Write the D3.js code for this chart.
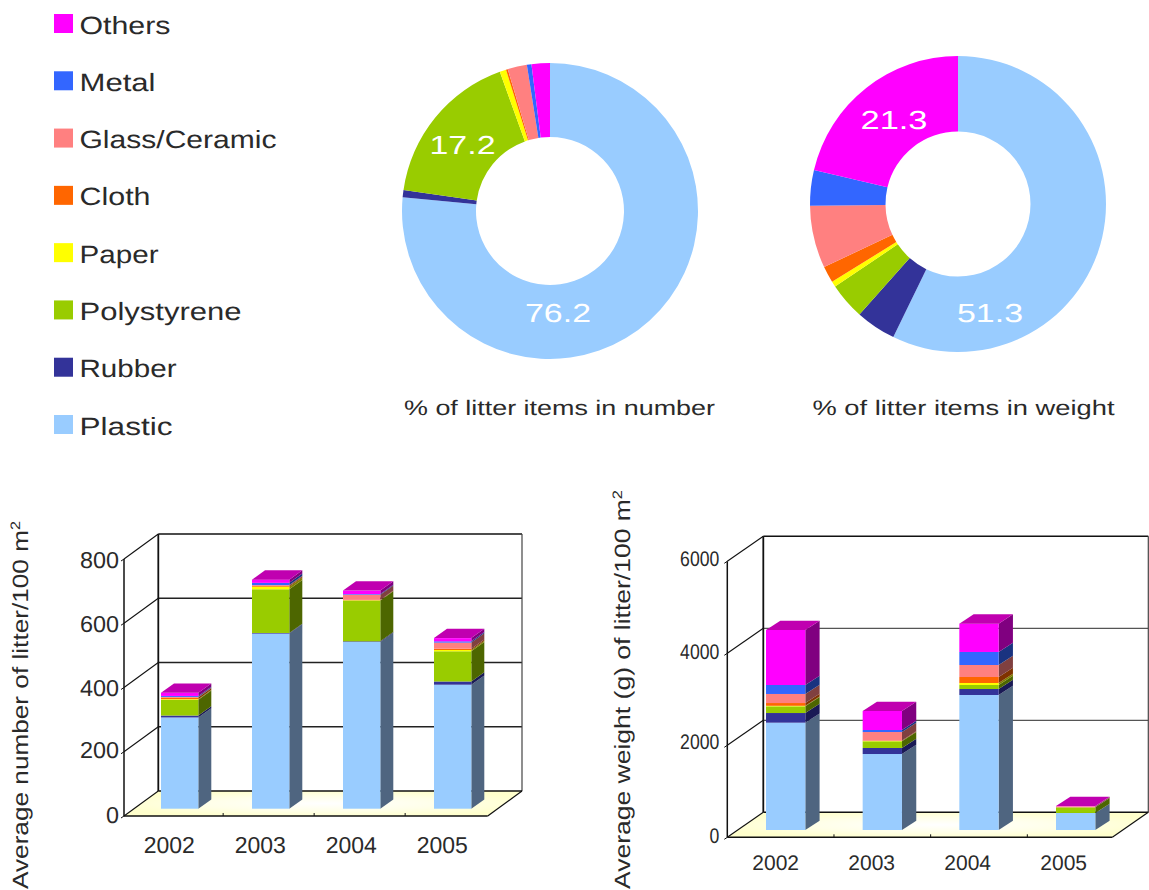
<!DOCTYPE html>
<html><head><meta charset="utf-8">
<script src="https://cdn.jsdelivr.net/npm/d3@7"></script>
<style>html,body{margin:0;padding:0;background:#fff}svg{display:block}text{font-family:"Liberation Sans",Arial,sans-serif;fill:#2a2a2a;text-rendering:geometricPrecision}</style>
</head><body><svg id="c" width="1149" height="890"></svg>
<script>
// ---------- data ----------
const materials = ["Plastic","Rubber","Polystyrene","Paper","Cloth","Glass/Ceramic","Metal","Others"];
const legendOrder = ["Others","Metal","Glass/Ceramic","Cloth","Paper","Polystyrene","Rubber","Plastic"];
const colors = ["#99CCFF","#333399","#99CC00","#FFFF00","#FF6600","#FF8080","#3366FF","#FF00FF"];
const sideColors = ["#4F6580","#1A1A55","#4D6600","#808000","#803300","#804040","#1A3380","#800080"];
const years = ["2002","2003","2004","2005"];

const pieNumber = [76.4,0.8,17.2,0.7,0.2,2.1,0.5,2.0];
const pieWeight = [57.2,4.4,4.0,0.6,1.8,6.8,3.9,21.3];
const pieNumberLabels = ["76.2","17.2"];
const pieWeightLabels = ["51.3","21.3"];

const count2002 = [284,6,49,2,5,2,3,10];
const count2003 = [545,2,136,8,3,2,7,10];
const count2004 = [519,2,127,1,1,16,2,11];
const count2005 = [386,10,94,4,4,19,4,10];

const weight2002 = [2333,210,145,12,60,197,195,1196];
const weight2003 = [1652,131,145,7,10,185,44,413];
const weight2004 = [2935,130,87,44,130,261,283,616];
const weight2005 = [370,0,123,0,0,22,0,6];

const countTicks = [0,200,400,600,800];
const weightTicks = [0,2000,4000,6000];

// ---------- drawing ----------
const svg = d3.select("#c");
const defs = svg.append("defs");
const matColor = d3.scaleOrdinal(materials, colors);

function stretched(g, str, x, y, size, width, fill){
  return g.append("text").attr("x",x).attr("y",y).attr("font-size",size)
    .attr("textLength",width).attr("lengthAdjust","spacingAndGlyphs")
    .style("fill",fill||"#2a2a2a").text(str);
}

// legend
const legendY = d3.scalePoint(legendOrder,[14,415]);
const legendWidths = {"Others":91,"Metal":76,"Glass/Ceramic":197,"Cloth":71,"Paper":79,"Polystyrene":162,"Rubber":97,"Plastic":93};
const lg = svg.append("g");
legendOrder.forEach(name=>{
  const y = legendY(name);
  lg.append("rect").attr("x",54).attr("y",y).attr("width",19).attr("height",19).attr("fill",matColor(name));
  stretched(lg,name,79.5,y+19.6,25,legendWidths[name]);
});

// donuts
function donut(vals,cx,cy,ri,labels,labelPos,caption,capX,capW){
  const g = svg.append("g").attr("transform",`translate(${cx},${cy})`);
  const arcs = d3.pie().sort(null)(vals);
  const arc = d3.arc().innerRadius(ri).outerRadius(148);
  g.selectAll("path").data(arcs).join("path").attr("d",arc).attr("fill",(d,i)=>colors[i]);
  labels.forEach((t,i)=>stretched(svg,t,labelPos[i][0],labelPos[i][1],26,labelPos[i][2],"#fff"));
  stretched(svg,caption,capX,415,21,capW);
}
donut(pieNumber,550,211,74,pieNumberLabels,[[525,322,66],[429.5,154,66]],"% of litter items in number",404,311);
donut(pieWeight,958,204,72.5,pieWeightLabels,[[957,322,66],[860.5,129,67]],"% of litter items in weight",812.5,302);

// 3-D stacked bars
function bar3d(o){
  const g = svg.append("g");
  const D = o.depth, H = o.wallShift;
  const yFront = d3.scaleLinear(o.domain,[o.front,o.front-o.wallH]);
  const yBack  = d3.scaleLinear(o.domain,[o.front-H,o.front-H-o.wallH]);
  const yBar   = d3.scaleLinear(o.domain,[o.barBase,o.barBase-o.wallH]);
  const xBar   = d3.scalePoint(years,o.barRange);
  const xLabel = d3.scalePoint(years,o.labelRange);
  const L=o.left, R=o.right;
  const grad = "g"+o.id;
  const rg = defs.append("radialGradient").attr("id",grad).attr("cx","50%").attr("cy","50%").attr("r","55%");
  rg.append("stop").attr("offset","0").attr("stop-color","#fff");
  rg.append("stop").attr("offset","0.55").attr("stop-color","#FFFFE8");
  rg.append("stop").attr("offset","1").attr("stop-color","#FFFFCC");
  const y0=yFront(0), b0=yBack(0);
  g.append("polygon").attr("points",[[L,y0],[L+D,b0],[R+D,b0],[R,y0]].join(" ")).attr("fill",`url(#${grad})`);
  const line=(a,b,c,d,w,s)=>g.append("line").attr("x1",a).attr("y1",b).attr("x2",c).attr("y2",d)
     .attr("stroke",s||"#111").attr("stroke-width",w||1.3);
  o.ticks.forEach(t=>{
    if(t>0 && t<o.domain[1]) line(L+D,yBack(t),R+D,yBack(t),o.gridW,o.gridC);
    line(L,yFront(t),L+D,yBack(t),1.1);
    line(L-3,yFront(t)+2,L,yFront(t),1);
  });
  const top=yBack(o.domain[1]);
  line(L+D,top,R+D,top,1.4);
  line(L+D,top,L+D,b0,1.8);
  line(R+D,top,R+D,b0,1.2,"#444");
  line(L,yFront(o.domain[1]),L,y0,1.5);
  line(L+D,b0,R+D,b0,1.6);
  line(L,y0,R,y0,1.4);
  line(R,y0,R+D,b0,1.2);
  // x ticks
  years.slice(1).forEach((yr,i)=>{
    const tx=d3.mean([xBar(years[i]),xBar(yr)])+o.barW/2+o.tickShift;
    line(tx,y0,tx,y0-3,1);
  });
  // bars
  const bd=o.barDepth, bh=o.barRise, w=o.barW;
  o.rows.forEach((row,i)=>{
    const x=xBar(years[i]);
    let cum=0;
    row.forEach((v,k)=>{
      if(v<=0) return;
      const a=yBar(cum), b=yBar(cum+v);
      g.append("polygon").attr("points",[[x+w,a],[x+w+bd,a-bh],[x+w+bd,b-bh],[x+w,b]].join(" ")).attr("fill",sideColors[k]);
      g.append("rect").attr("x",x).attr("y",b).attr("width",w).attr("height",a-b).attr("fill",colors[k]);
      cum+=v;
    });
    const t=yBar(cum);
    g.append("polygon").attr("points",[[x,t],[x+w,t],[x+w+bd,t-bh],[x+bd,t-bh]].join(" ")).attr("fill","#C000B0");
    g.append("text").attr("x",xLabel(years[i])).attr("y",o.labelY).attr("text-anchor","middle").attr("font-size",o.fs).text(years[i]);
  });
  o.ticks.forEach((t,i)=>{
    const s=String(t);
    g.append("text").attr("x",L-o.tickGap).attr("y",o.tickY[i]).attr("text-anchor","end").attr("font-size",o.fs)
      .attr("textLength",s.length*o.digitW).attr("lengthAdjust","spacingAndGlyphs").text(s);
  });
  // axis title
  const tt=g.append("text").attr("transform",`translate(${o.titleX},${o.titleB}) rotate(-90)`).attr("font-size",o.titleFs)
    .attr("textLength",o.titleW).attr("lengthAdjust","spacingAndGlyphs");
  tt.append("tspan").text(o.title);
  tt.append("tspan").attr("dy",-8).attr("font-size",o.titleFs*0.62).text("2");
}
bar3d({id:"a",domain:[0,800],ticks:countTicks,rows:[count2002,count2003,count2004,count2005],
  left:124,right:487.7,front:816,wallH:257,wallShift:25,depth:34.3,barBase:808.7,
  barRange:[161,434],barW:37.3,barDepth:13,barRise:9.3,labelRange:[169.3,442.3],labelY:852.7,fs:23,
  tickY:[823,758,696,632,568],tickGap:5,digitW:13,tickShift:-2,gridW:1.3,gridC:"#222",
  title:"Average number of litter/100 m",titleX:28,titleB:889,titleFs:22,titleW:368});
bar3d({id:"b",domain:[0,6000],ticks:weightTicks,rows:[weight2002,weight2003,weight2004,weight2005],
  left:727.3,right:1112.3,front:837.3,wallH:276,wallShift:25,depth:36,barBase:830,
  barRange:[766,1056],barW:39.3,barDepth:14.3,barRise:9.3,labelRange:[775.7,1063.7],labelY:870,fs:21,
  tickY:[843,749,659,566],tickGap:8,digitW:9.8,tickShift:0,gridW:1.3,gridC:"#555",
  title:"Average weight (g) of litter/100 m",titleX:630,titleB:889,titleFs:22,titleW:399});
</script></body></html>
